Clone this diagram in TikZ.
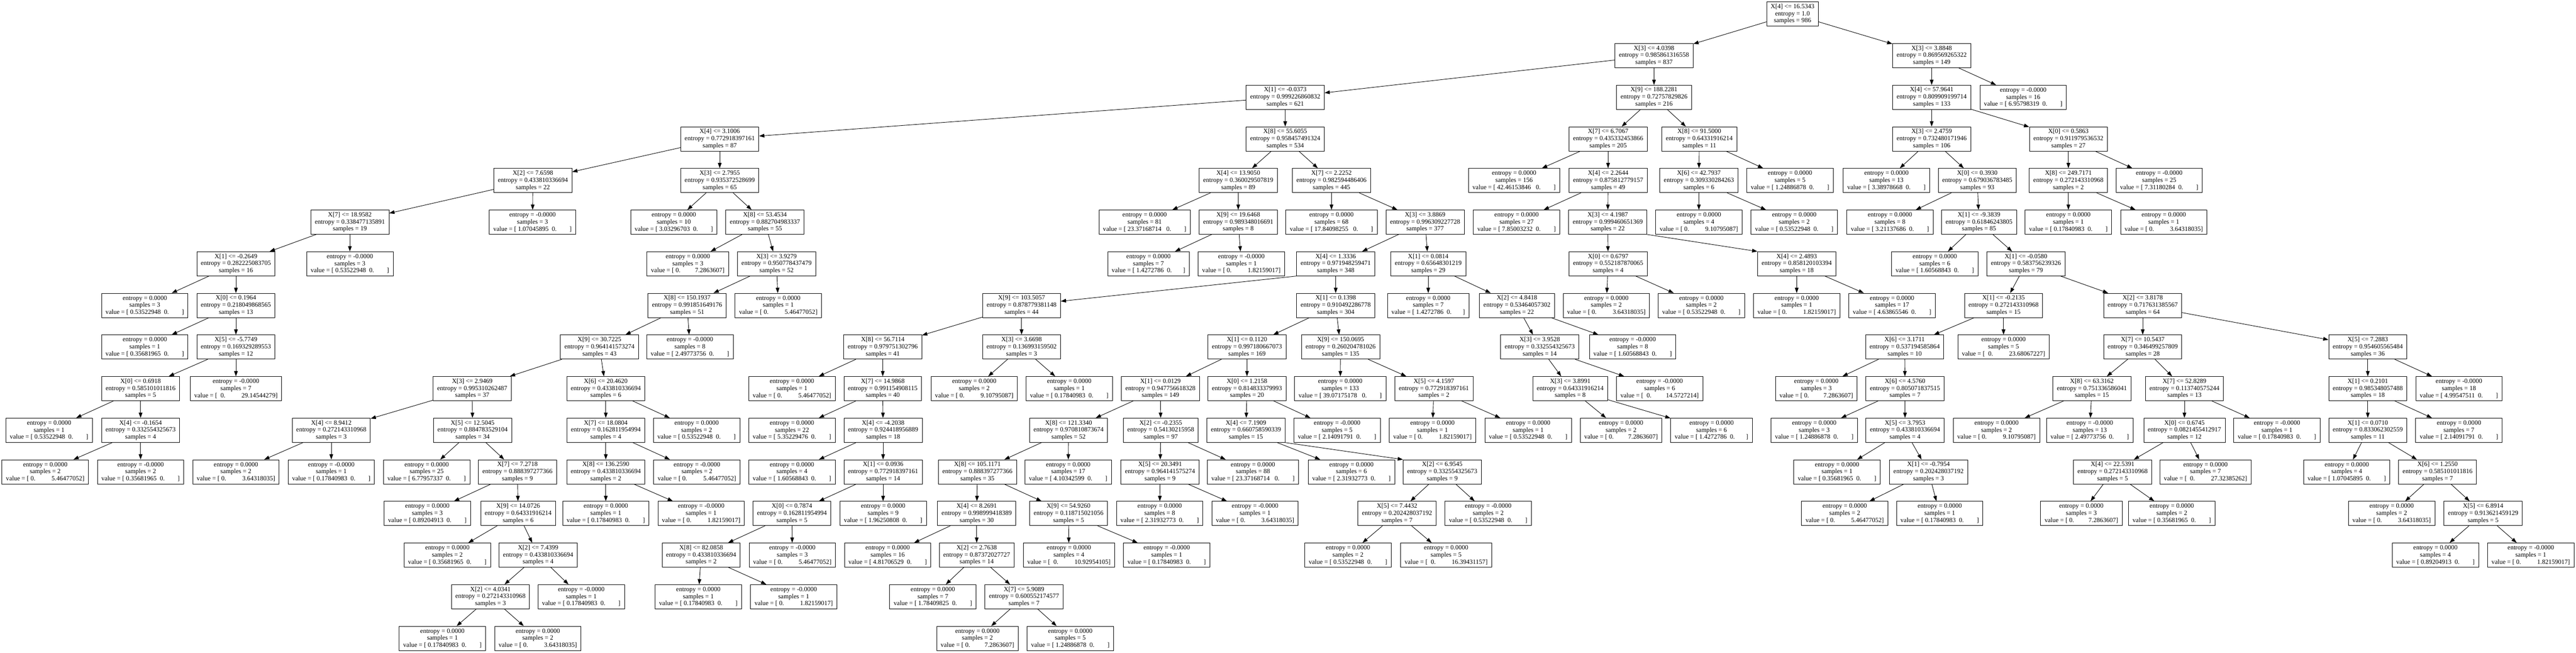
\documentclass[tikz,border=0pt]{standalone}
\usepackage{fontspec}
\setmainfont{Liberation Serif}
\usetikzlibrary{arrows.meta}

\newcommand{\decide}[4]{X[#1] <= #2\\entropy = #3\\samples = #4}
\newcommand{\outcome}[3]{entropy = #1\\samples = #2\\value = [#3]}
\newcommand{\leafa}[3]{\outcome{#1}{#2}{~#3~~0.~~~~~~~~}}
\newcommand{\leafb}[3]{\outcome{#1}{#2}{~0.~~~~~~~~~~#3}}

\begin{document}
\begin{tikzpicture}[
        x=1pt, y=-118.68pt,
        every node/.style={draw, align=center, line width=1.3pt, inner xsep=11.5pt, inner ysep=3pt, minimum height=69pt, font=\fontsize{18.4}{20.2}\selectfont},
        arrow/.style={-{Triangle[length=15pt, width=10.5pt]}, line width=1.3pt}
    ]

    \path[use as bounding box, fill=white] (0,-0.337) rectangle (7348,15.344);

    % Nodes
    \node (n0) at (5113,0) {\decide{4}{16.5343}{1.0}{986}};
    \node (n1) at (4718,1) {\decide{3}{4.0398}{0.985861316558}{837}};
    \node (n2) at (3666,2) {\decide{1}{-0.0373}{0.999226860832}{621}};
    \node (n3) at (2053,3) {\decide{4}{3.1006}{0.772918397161}{87}};
    \node (n4) at (1520,4) {\decide{2}{7.6598}{0.433810336694}{22}};
    \node (n5) at (998,5) {\decide{7}{18.9582}{0.338477135891}{19}};
    \node (n6) at (673,6) {\decide{1}{-0.2649}{0.282225083705}{16}};
    \node (n7) at (413,7) {\leafa{0.0000}{3}{0.53522948}};
    \node (n8) at (673,7) {\decide{0}{0.1964}{0.218049868565}{13}};
    \node (n9) at (413,8) {\leafa{0.0000}{1}{0.35681965}};
    \node (n10) at (673,8) {\decide{5}{-5.7749}{0.169329289553}{12}};
    \node (n11) at (401,9) {\decide{0}{0.6918}{0.585101011816}{5}};
    \node (n12) at (140,10) {\leafa{0.0000}{1}{0.53522948}};
    \node (n13) at (401,10) {\decide{4}{-0.1654}{0.332554325673}{4}};
    \node (n14) at (129,11) {\leafb{0.0000}{2}{5.46477052}};
    \node (n15) at (401,11) {\leafa{-0.0000}{2}{0.35681965}};
    \node (n16) at (673,9) {\outcome{-0.0000}{7}{~~0.~~~~~~~~~~29.14544279}};
    \node (n17) at (998,6) {\leafa{-0.0000}{3}{0.53522948}};
    \node (n18) at (1519,5) {\leafa{-0.0000}{3}{1.07045895}};
    \node (n19) at (2053,4) {\decide{3}{2.7955}{0.935372528699}{65}};
    \node (n20) at (1922,5) {\leafa{0.0000}{10}{3.03296703}};
    \node (n21) at (2182,5) {\decide{8}{53.4534}{0.882704983337}{55}};
    \node (n22) at (1962,6) {\outcome{0.0000}{3}{~0.~~~~~~~~~7.2863607}};
    \node (n23) at (2215,6) {\decide{3}{3.9279}{0.950778437479}{52}};
    \node (n24) at (1960,7) {\decide{8}{150.1937}{0.991851649176}{51}};
    \node (n25) at (1710,8) {\decide{9}{30.7225}{0.964141573274}{43}};
    \node (n26) at (1347,9) {\decide{3}{2.9469}{0.995310262487}{37}};
    \node (n27) at (945,10) {\decide{4}{8.9412}{0.272143310968}{3}};
    \node (n28) at (673,11) {\leafb{0.0000}{2}{3.64318035}};
    \node (n29) at (945,11) {\leafa{-0.0000}{1}{0.17840983}};
    \node (n30) at (1348,10) {\decide{5}{12.5045}{0.884783529104}{34}};
    \node (n31) at (1217,11) {\leafa{0.0000}{25}{6.77957337}};
    \node (n32) at (1476,11) {\decide{7}{7.2718}{0.888397277366}{9}};
    \node (n33) at (1219,12) {\leafa{0.0000}{3}{0.89204913}};
    \node (n34) at (1478,12) {\decide{9}{14.0726}{0.64331916214}{6}};
    \node (n35) at (1276,13) {\leafa{0.0000}{2}{0.35681965}};
    \node (n36) at (1535,13) {\decide{2}{7.4399}{0.433810336694}{4}};
    \node (n37) at (1399,14) {\decide{2}{4.0341}{0.272143310968}{3}};
    \node (n38) at (1262,15) {\leafa{0.0000}{1}{0.17840983}};
    \node (n39) at (1534,15) {\leafb{0.0000}{2}{3.64318035}};
    \node (n40) at (1658,14) {\leafa{-0.0000}{1}{0.17840983}};
    \node (n41) at (1728,9) {\decide{6}{20.4620}{0.433810336694}{6}};
    \node (n42) at (1728,10) {\decide{7}{18.0804}{0.162811954994}{4}};
    \node (n43) at (1728,11) {\decide{8}{136.2590}{0.433810336694}{2}};
    \node (n44) at (1728,12) {\leafa{0.0000}{1}{0.17840983}};
    \node (n45) at (2000,12) {\leafb{-0.0000}{1}{1.82159017}};
    \node (n46) at (1988,11) {\leafb{-0.0000}{2}{5.46477052}};
    \node (n47) at (1987,10) {\leafa{0.0000}{2}{0.53522948}};
    \node (n48) at (1968,8) {\leafa{-0.0000}{8}{2.49773756}};
    \node (n49) at (2220,7) {\leafb{0.0000}{1}{5.46477052}};
    \node (n50) at (3666,3) {\decide{8}{55.6055}{0.958457491324}{534}};
    \node (n51) at (3532,4) {\decide{4}{13.9050}{0.360029507819}{89}};
    \node (n52) at (3265,5) {\outcome{0.0000}{81}{~23.37168714~~~0.~~~~~~~~}};
    \node (n53) at (3532,5) {\decide{9}{19.6468}{0.989348016691}{8}};
    \node (n54) at (3276,6) {\outcome{0.0000}{7}{~1.4272786~~0.~~~~~~~}};
    \node (n55) at (3541,6) {\leafb{-0.0000}{1}{1.82159017}};
    \node (n56) at (3798,4) {\decide{7}{2.2252}{0.982594486406}{445}};
    \node (n57) at (3798,5) {\outcome{0.0000}{68}{~17.84098255~~~0.~~~~~~~~}};
    \node (n58) at (4065,5) {\decide{3}{3.8869}{0.996309227728}{377}};
    \node (n59) at (3810,6) {\decide{4}{1.3336}{0.971948259471}{348}};
    \node (n60) at (2914,7) {\decide{9}{103.5057}{0.878779381148}{44}};
    \node (n61) at (2518,8) {\decide{8}{56.7114}{0.979751302796}{41}};
    \node (n62) at (2259,9) {\leafb{0.0000}{1}{5.46477052}};
    \node (n63) at (2518,9) {\decide{7}{14.9868}{0.991154908115}{40}};
    \node (n64) at (2259,10) {\leafa{0.0000}{22}{5.35229476}};
    \node (n65) at (2519,10) {\decide{4}{-4.2038}{0.924418956889}{18}};
    \node (n66) at (2259,11) {\leafa{0.0000}{4}{1.60568843}};
    \node (n67) at (2519,11) {\decide{1}{0.0936}{0.772918397161}{14}};
    \node (n68) at (2259,12) {\decide{0}{0.7874}{0.162811954994}{5}};
    \node (n69) at (2000,13) {\decide{8}{82.0858}{0.433810336694}{2}};
    \node (n70) at (1992,14) {\leafa{0.0000}{1}{0.17840983}};
    \node (n71) at (2264,14) {\leafb{-0.0000}{1}{1.82159017}};
    \node (n72) at (2260,13) {\leafb{-0.0000}{3}{5.46477052}};
    \node (n73) at (2519,12) {\leafa{0.0000}{9}{1.96250808}};
    \node (n74) at (2914,8) {\decide{3}{3.6698}{0.136993159502}{3}};
    \node (n75) at (2779,9) {\leafb{0.0000}{2}{9.10795087}};
    \node (n76) at (3050,9) {\leafa{0.0000}{1}{0.17840983}};
    \node (n77) at (3810,7) {\decide{1}{0.1398}{0.910492286778}{304}};
    \node (n78) at (3557,8) {\decide{1}{0.1120}{0.997180667073}{169}};
    \node (n79) at (3310,9) {\decide{1}{0.0129}{0.947756618328}{149}};
    \node (n80) at (3048,10) {\decide{8}{121.3340}{0.970810873674}{52}};
    \node (n81) at (2788,11) {\decide{8}{105.1171}{0.888397277366}{35}};
    \node (n82) at (2786,12) {\decide{4}{8.2691}{0.998999418389}{30}};
    \node (n83) at (2532,13) {\leafa{0.0000}{16}{4.81706529}};
    \node (n84) at (2786,13) {\decide{2}{2.7638}{0.87372027727}{14}};
    \node (n85) at (2661,14) {\leafa{0.0000}{7}{1.78409825}};
    \node (n86) at (2921,14) {\decide{7}{5.9089}{0.600552174577}{7}};
    \node (n87) at (2788,15) {\outcome{0.0000}{2}{~0.~~~~~~~~~7.2863607}};
    \node (n88) at (3053,15) {\leafa{0.0000}{5}{1.24886878}};
    \node (n89) at (3048,12) {\decide{9}{54.9260}{0.118715021056}{5}};
    \node (n90) at (3049,13) {\outcome{0.0000}{4}{~~0.~~~~~~~~~~10.92954105}};
    \node (n91) at (3328,13) {\leafa{-0.0000}{1}{0.17840983}};
    \node (n92) at (3047,11) {\leafa{0.0000}{17}{4.10342599}};
    \node (n93) at (3311,10) {\decide{2}{-0.2355}{0.54130215958}{97}};
    \node (n94) at (3309,11) {\decide{5}{20.3491}{0.964141575274}{9}};
    \node (n95) at (3308,12) {\leafa{0.0000}{8}{2.31932773}};
    \node (n96) at (3580,12) {\leafb{-0.0000}{1}{3.64318035}};
    \node (n97) at (3574,11) {\outcome{0.0000}{88}{~23.37168714~~~0.~~~~~~~~}};
    \node (n98) at (3557,9) {\decide{0}{1.2158}{0.814833379993}{20}};
    \node (n99) at (3554,10) {\decide{4}{7.1909}{0.660758590339}{15}};
    \node (n100) at (3855,11) {\leafa{0.0000}{6}{2.31932773}};
    \node (n101) at (4114,11) {\decide{2}{6.9545}{0.332554325673}{9}};
    \node (n102) at (3985,12) {\decide{5}{7.4432}{0.202428037192}{7}};
    \node (n103) at (3845,13) {\leafa{0.0000}{2}{0.53522948}};
    \node (n104) at (4125,13) {\outcome{0.0000}{5}{~~0.~~~~~~~~~~16.39431157}};
    \node (n105) at (4245,12) {\leafa{-0.0000}{2}{0.53522948}};
    \node (n106) at (3814,10) {\leafa{-0.0000}{5}{2.14091791}};
    \node (n107) at (3824,8) {\decide{9}{150.0695}{0.260204781026}{135}};
    \node (n108) at (3823,9) {\outcome{0.0000}{133}{~39.07175178~~~0.~~~~~~~~}};
    \node (n109) at (4090,9) {\decide{5}{4.1597}{0.772918397161}{2}};
    \node (n110) at (4086,10) {\leafb{0.0000}{1}{1.82159017}};
    \node (n111) at (4359,10) {\leafa{0.0000}{1}{0.53522948}};
    \node (n112) at (4074,6) {\decide{1}{0.0814}{0.65648301219}{29}};
    \node (n113) at (4074,7) {\outcome{0.0000}{7}{~1.4272786~~0.~~~~~~~}};
    \node (n114) at (4327,7) {\decide{2}{4.8418}{0.53464057302}{22}};
    \node (n115) at (4392,8) {\decide{3}{3.9528}{0.332554325673}{14}};
    \node (n116) at (4479,9) {\decide{3}{3.8991}{0.64331916214}{8}};
    \node (n117) at (4624,10) {\outcome{0.0000}{2}{~0.~~~~~~~~~7.2863607}};
    \node (n118) at (4882,10) {\outcome{0.0000}{6}{~1.4272786~~0.~~~~~~~}};
    \node (n119) at (4734,9) {\outcome{-0.0000}{6}{~~0.~~~~~~~~~14.5727214}};
    \node (n120) at (4657,8) {\leafa{-0.0000}{8}{1.60568843}};
    \node (n121) at (4718,2) {\decide{9}{188.2281}{0.72757829826}{216}};
    \node (n122) at (4587,3) {\decide{7}{6.7067}{0.435332453866}{205}};
    \node (n123) at (4319,4) {\outcome{0.0000}{156}{~42.46153846~~~0.~~~~~~~~}};
    \node (n124) at (4587,4) {\decide{4}{2.2644}{0.875812779157}{49}};
    \node (n125) at (4326,5) {\leafa{0.0000}{27}{7.85003232}};
    \node (n126) at (4586,5) {\decide{3}{4.1987}{0.999460651369}{22}};
    \node (n127) at (4587,6) {\decide{0}{0.6797}{0.552187870065}{4}};
    \node (n128) at (4582,7) {\leafb{0.0000}{2}{3.64318035}};
    \node (n129) at (4853,7) {\leafa{0.0000}{2}{0.53522948}};
    \node (n130) at (5125,6) {\decide{4}{2.4893}{0.858120103394}{18}};
    \node (n131) at (5125,7) {\leafb{0.0000}{1}{1.82159017}};
    \node (n132) at (5397,7) {\leafa{0.0000}{17}{4.63865546}};
    \node (n133) at (4847,3) {\decide{8}{91.5000}{0.64331916214}{11}};
    \node (n134) at (4846,4) {\decide{6}{42.7937}{0.309330284263}{6}};
    \node (n135) at (4846,5) {\leafb{0.0000}{4}{9.10795087}};
    \node (n136) at (5118,5) {\leafa{0.0000}{2}{0.53522948}};
    \node (n137) at (5106,4) {\leafa{0.0000}{5}{1.24886878}};
    \node (n138) at (5510,1) {\decide{3}{3.8848}{0.869569265322}{149}};
    \node (n139) at (5510,2) {\decide{4}{57.9641}{0.809909199714}{133}};
    \node (n140) at (5510,3) {\decide{3}{2.4759}{0.732480171946}{106}};
    \node (n141) at (5381,4) {\leafa{0.0000}{13}{3.38978668}};
    \node (n142) at (5640,4) {\decide{0}{0.3930}{0.679036783485}{93}};
    \node (n143) at (5391,5) {\leafa{0.0000}{8}{3.21137686}};
    \node (n144) at (5645,5) {\decide{1}{-9.3839}{0.61846243805}{85}};
    \node (n145) at (5519,6) {\leafa{0.0000}{6}{1.60568843}};
    \node (n146) at (5779,6) {\decide{1}{-0.0580}{0.583756239326}{79}};
    \node (n147) at (5715,7) {\decide{1}{-0.2135}{0.272143310968}{15}};
    \node (n148) at (5433,8) {\decide{6}{3.1711}{0.537194585864}{10}};
    \node (n149) at (5181,9) {\outcome{0.0000}{3}{~0.~~~~~~~~~7.2863607}};
    \node (n150) at (5434,9) {\decide{6}{4.5760}{0.805071837515}{7}};
    \node (n151) at (5175,10) {\leafa{0.0000}{3}{1.24886878}};
    \node (n152) at (5434,10) {\decide{5}{3.7953}{0.433810336694}{4}};
    \node (n153) at (5240,11) {\leafa{0.0000}{1}{0.35681965}};
    \node (n154) at (5501,11) {\decide{1}{-0.7954}{0.202428037192}{3}};
    \node (n155) at (5262,12) {\leafb{0.0000}{2}{5.46477052}};
    \node (n156) at (5533,12) {\leafa{0.0000}{1}{0.17840983}};
    \node (n157) at (5715,8) {\outcome{0.0000}{5}{~~0.~~~~~~~~~~23.68067227}};
    \node (n158) at (6112,7) {\decide{2}{3.8178}{0.717631385567}{64}};
    \node (n159) at (6112,8) {\decide{7}{10.5437}{0.346499257809}{28}};
    \node (n160) at (5967,9) {\decide{8}{63.3162}{0.751336586041}{15}};
    \node (n161) at (5695,10) {\leafb{0.0000}{2}{9.10795087}};
    \node (n162) at (5961,10) {\leafa{-0.0000}{13}{2.49773756}};
    \node (n163) at (6231,9) {\decide{7}{52.8289}{0.113740575244}{13}};
    \node (n164) at (6231,10) {\decide{0}{0.6745}{0.0821455412917}{12}};
    \node (n165) at (6026,11) {\decide{4}{22.5391}{0.272143310968}{5}};
    \node (n166) at (5937,12) {\outcome{0.0000}{3}{~0.~~~~~~~~~7.2863607}};
    \node (n167) at (6195,12) {\leafa{0.0000}{2}{0.35681965}};
    \node (n168) at (6291,11) {\outcome{0.0000}{7}{~~0.~~~~~~~~~~27.32385262}};
    \node (n169) at (6495,10) {\leafa{-0.0000}{1}{0.17840983}};
    \node (n170) at (6754,8) {\decide{5}{7.2883}{0.954605565484}{36}};
    \node (n171) at (6754,9) {\decide{1}{0.2101}{0.985348057488}{18}};
    \node (n172) at (6754,10) {\decide{1}{0.0710}{0.833062302559}{11}};
    \node (n173) at (6694,11) {\leafa{0.0000}{4}{1.07045895}};
    \node (n174) at (6953,11) {\decide{6}{1.2550}{0.585101011816}{7}};
    \node (n175) at (6822,12) {\leafb{0.0000}{2}{3.64318035}};
    \node (n176) at (7083,12) {\decide{5}{6.8914}{0.913621459129}{5}};
    \node (n177) at (6947,13) {\leafa{0.0000}{4}{0.89204913}};
    \node (n178) at (7219,13) {\leafb{-0.0000}{1}{1.82159017}};
    \node (n179) at (7014,10) {\leafa{0.0000}{7}{2.14091791}};
    \node (n180) at (7014,9) {\leafa{-0.0000}{18}{4.99547511}};
    \node (n181) at (5900,3) {\decide{0}{0.5863}{0.911979536532}{27}};
    \node (n182) at (5900,4) {\decide{8}{249.7171}{0.272143310968}{2}};
    \node (n183) at (5900,5) {\leafa{0.0000}{1}{0.17840983}};
    \node (n184) at (6172,5) {\leafb{0.0000}{1}{3.64318035}};
    \node (n185) at (6159,4) {\leafa{-0.0000}{25}{7.31180284}};
    \node (n186) at (5771,2) {\leafa{-0.0000}{16}{6.95798319}};

    % Arrows
    \draw[arrow] (n0) -- (n1); \draw[arrow] (n0) -- (n138);
    \draw[arrow] (n1) -- (n2); \draw[arrow] (n1) -- (n121);
    \draw[arrow] (n2) -- (n3); \draw[arrow] (n2) -- (n50);
    \draw[arrow] (n3) -- (n4); \draw[arrow] (n3) -- (n19);
    \draw[arrow] (n4) -- (n5); \draw[arrow] (n4) -- (n18);
    \draw[arrow] (n5) -- (n6); \draw[arrow] (n5) -- (n17);
    \draw[arrow] (n6) -- (n7); \draw[arrow] (n6) -- (n8);
    \draw[arrow] (n8) -- (n9); \draw[arrow] (n8) -- (n10);
    \draw[arrow] (n10) -- (n11); \draw[arrow] (n10) -- (n16);
    \draw[arrow] (n11) -- (n12); \draw[arrow] (n11) -- (n13);
    \draw[arrow] (n13) -- (n14); \draw[arrow] (n13) -- (n15);
    \draw[arrow] (n19) -- (n20); \draw[arrow] (n19) -- (n21);
    \draw[arrow] (n21) -- (n22); \draw[arrow] (n21) -- (n23);
    \draw[arrow] (n23) -- (n24); \draw[arrow] (n23) -- (n49);
    \draw[arrow] (n24) -- (n25); \draw[arrow] (n24) -- (n48);
    \draw[arrow] (n25) -- (n26); \draw[arrow] (n25) -- (n41);
    \draw[arrow] (n26) -- (n27); \draw[arrow] (n26) -- (n30);
    \draw[arrow] (n27) -- (n28); \draw[arrow] (n27) -- (n29);
    \draw[arrow] (n30) -- (n31); \draw[arrow] (n30) -- (n32);
    \draw[arrow] (n32) -- (n33); \draw[arrow] (n32) -- (n34);
    \draw[arrow] (n34) -- (n35); \draw[arrow] (n34) -- (n36);
    \draw[arrow] (n36) -- (n37); \draw[arrow] (n36) -- (n40);
    \draw[arrow] (n37) -- (n38); \draw[arrow] (n37) -- (n39);
    \draw[arrow] (n41) -- (n42); \draw[arrow] (n41) -- (n47);
    \draw[arrow] (n42) -- (n43); \draw[arrow] (n42) -- (n46);
    \draw[arrow] (n43) -- (n44); \draw[arrow] (n43) -- (n45);
    \draw[arrow] (n50) -- (n51); \draw[arrow] (n50) -- (n56);
    \draw[arrow] (n51) -- (n52); \draw[arrow] (n51) -- (n53);
    \draw[arrow] (n53) -- (n54); \draw[arrow] (n53) -- (n55);
    \draw[arrow] (n56) -- (n57); \draw[arrow] (n56) -- (n58);
    \draw[arrow] (n58) -- (n59); \draw[arrow] (n58) -- (n112);
    \draw[arrow] (n59.south west) -- (n60.6); \draw[arrow] (n59) -- (n77);
    \draw[arrow] (n60) -- (n61); \draw[arrow] (n60) -- (n74);
    \draw[arrow] (n61) -- (n62); \draw[arrow] (n61) -- (n63);
    \draw[arrow] (n63) -- (n64); \draw[arrow] (n63) -- (n65);
    \draw[arrow] (n65) -- (n66); \draw[arrow] (n65) -- (n67);
    \draw[arrow] (n67) -- (n68); \draw[arrow] (n67) -- (n73);
    \draw[arrow] (n68) -- (n69); \draw[arrow] (n68) -- (n72);
    \draw[arrow] (n69) -- (n70); \draw[arrow] (n69) -- (n71);
    \draw[arrow] (n74) -- (n75); \draw[arrow] (n74) -- (n76);
    \draw[arrow] (n77) -- (n78); \draw[arrow] (n77) -- (n107);
    \draw[arrow] (n78) -- (n79); \draw[arrow] (n78) -- (n98);
    \draw[arrow] (n79) -- (n80); \draw[arrow] (n79) -- (n93);
    \draw[arrow] (n80) -- (n81); \draw[arrow] (n80) -- (n92);
    \draw[arrow] (n81) -- (n82); \draw[arrow] (n81) -- (n89);
    \draw[arrow] (n82) -- (n83); \draw[arrow] (n82) -- (n84);
    \draw[arrow] (n84) -- (n85); \draw[arrow] (n84) -- (n86);
    \draw[arrow] (n86) -- (n87); \draw[arrow] (n86) -- (n88);
    \draw[arrow] (n89) -- (n90); \draw[arrow] (n89) -- (n91);
    \draw[arrow] (n93) -- (n94); \draw[arrow] (n93) -- (n97);
    \draw[arrow] (n94) -- (n95); \draw[arrow] (n94) -- (n96);
    \draw[arrow] (n98) -- (n99); \draw[arrow] (n98) -- (n106);
    \draw[arrow] (n99) -- (n100); \draw[arrow] (n99.south east) -- (n101.north west);
    \draw[arrow] (n101) -- (n102); \draw[arrow] (n101) -- (n105);
    \draw[arrow] (n102) -- (n103); \draw[arrow] (n102) -- (n104);
    \draw[arrow] (n107) -- (n108); \draw[arrow] (n107) -- (n109);
    \draw[arrow] (n109) -- (n110); \draw[arrow] (n109) -- (n111);
    \draw[arrow] (n112) -- (n113); \draw[arrow] (n112) -- (n114);
    \draw[arrow] (n114) -- (n115); \draw[arrow] (n114) -- (n120);
    \draw[arrow] (n115) -- (n116); \draw[arrow] (n115) -- (n119);
    \draw[arrow] (n116) -- (n117); \draw[arrow] (n116) -- (n118);
    \draw[arrow] (n121) -- (n122); \draw[arrow] (n121) -- (n133);
    \draw[arrow] (n122) -- (n123); \draw[arrow] (n122) -- (n124);
    \draw[arrow] (n124) -- (n125); \draw[arrow] (n124) -- (n126);
    \draw[arrow] (n126) -- (n127); \draw[arrow] (n126.south east) -- (n130.north west);
    \draw[arrow] (n127) -- (n128); \draw[arrow] (n127) -- (n129);
    \draw[arrow] (n130) -- (n131); \draw[arrow] (n130) -- (n132);
    \draw[arrow] (n133) -- (n134); \draw[arrow] (n133) -- (n137);
    \draw[arrow] (n134) -- (n135); \draw[arrow] (n134) -- (n136);
    \draw[arrow] (n138) -- (n139); \draw[arrow] (n138) -- (n186);
    \draw[arrow] (n139) -- (n140); \draw[arrow] (n139) -- (n181);
    \draw[arrow] (n140) -- (n141); \draw[arrow] (n140) -- (n142);
    \draw[arrow] (n142) -- (n143); \draw[arrow] (n142) -- (n144);
    \draw[arrow] (n144) -- (n145); \draw[arrow] (n144) -- (n146);
    \draw[arrow] (n146) -- (n147); \draw[arrow] (n146) -- (n158);
    \draw[arrow] (n147) -- (n148); \draw[arrow] (n147) -- (n157);
    \draw[arrow] (n148) -- (n149); \draw[arrow] (n148) -- (n150);
    \draw[arrow] (n150) -- (n151); \draw[arrow] (n150) -- (n152);
    \draw[arrow] (n152) -- (n153); \draw[arrow] (n152) -- (n154);
    \draw[arrow] (n154) -- (n155); \draw[arrow] (n154) -- (n156);
    \draw[arrow] (n158) -- (n159); \draw[arrow] (n158) -- (n170);
    \draw[arrow] (n159) -- (n160); \draw[arrow] (n159) -- (n163);
    \draw[arrow] (n160) -- (n161); \draw[arrow] (n160) -- (n162);
    \draw[arrow] (n163) -- (n164); \draw[arrow] (n163) -- (n169);
    \draw[arrow] (n164) -- (n165); \draw[arrow] (n164) -- (n168);
    \draw[arrow] (n165) -- (n166); \draw[arrow] (n165) -- (n167);
    \draw[arrow] (n170) -- (n171); \draw[arrow] (n170) -- (n180);
    \draw[arrow] (n171) -- (n172); \draw[arrow] (n171) -- (n179);
    \draw[arrow] (n172) -- (n173); \draw[arrow] (n172) -- (n174);
    \draw[arrow] (n174) -- (n175); \draw[arrow] (n174) -- (n176);
    \draw[arrow] (n176) -- (n177); \draw[arrow] (n176) -- (n178);
    \draw[arrow] (n181) -- (n182); \draw[arrow] (n181) -- (n185);
    \draw[arrow] (n182) -- (n183); \draw[arrow] (n182) -- (n184);

\end{tikzpicture}
\end{document}
